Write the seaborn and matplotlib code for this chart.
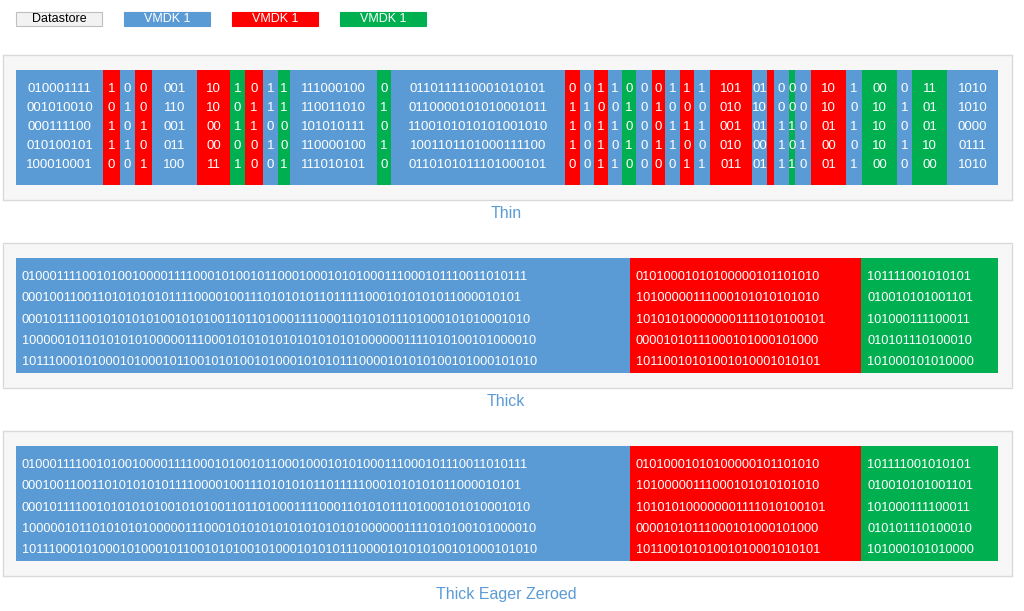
import matplotlib
matplotlib.use("Agg")
import matplotlib.pyplot as plt
import seaborn as sns

sns.set_theme(style="white")
plt.rcParams["font.family"] = "Liberation Sans"

BLUE, RED, GREEN = "#5b9bd5", "#ff0000", "#00b050"
COLORS = {"b": BLUE, "r": RED, "g": GREEN}

# legend
legend_labels = ["Datastore", "VMDK 1", "VMDK 1", "VMDK 1"]
legend_colors = ["#f2f2f2", BLUE, RED, GREEN]

# thin disk: segment edges (pixels along the datastore), colours, and text columns
thin_edges = [16, 103, 120, 135, 152, 197, 230, 245, 263, 278, 290, 377, 391, 565, 580,
              594, 608, 622, 636, 652, 665, 680, 694, 710, 752, 767, 774, 789, 795, 811,
              846, 862, 897, 912, 947, 998]
thin_colors = "brbrbrgrbgbgbrbrbgbrbrbrbrbgbrbgbgb"
thin_text = [
    ["010001111", "001010010", "000111100", "010100101", "100010001"],
    ["1", "0", "1", "1", "0"], ["0", "1", "0", "1", "0"], ["0", "0", "1", "0", "1"],
    ["001", "110", "001", "011", "100"], ["10", "10", "00", "00", "11"],
    ["1", "0", "1", "0", "1"], ["0", "1", "1", "0", "0"], ["1", "1", "0", "1", "0"],
    ["1", "1", "0", "0", "1"],
    ["111000100", "110011010", "101010111", "110000100", "111010101"],
    ["0", "1", "0", "1", "0"],
    ["0110111110001010101", "0110000101010001011", "1100101010101001010",
     "1001101101000111100", "0110101011101000101"],
    ["0", "1", "1", "1", "0"], ["0", "1", "0", "0", "0"], ["1", "0", "1", "1", "1"],
    ["1", "0", "1", "0", "1"], ["0", "1", "0", "1", "0"], ["0", "0", "0", "0", "0"],
    ["0", "1", "0", "1", "0"], ["1", "0", "1", "1", "0"], ["1", "0", "1", "0", "1"],
    ["1", "0", "1", "0", "1"], ["101", "010", "001", "010", "011"],
    ["01", "10", "01", "00", "01"], ["", "", "", "", ""],
    ["0", "0", "1", "1", "1"], ["0", "0", "1", "0", "1"], ["0", "0", "0", "1", "0"],
    ["10", "10", "01", "00", "01"], ["1", "0", "1", "0", "1"],
    ["00", "10", "10", "10", "00"], ["0", "1", "0", "1", "0"],
    ["11", "01", "01", "10", "00"], ["1010", "1010", "0000", "0111", "1010"],
]

# thick disks: three blocks
thick_edges = [16, 630, 861, 998]
thick_colors = "brg"
thick_text = [
    ["0100011110010100100001111000101001011000100010101000111000101110011010111",
     "00010011001101010101011110000100111010101011011111000101010101100001010 1".replace(" ", ""),
     "0001011110010101010100101010011011010001111000110101011101000101010001010",
     "1000001011010101010000011100010101010101010101010000001111010100101000010",
     "1011100010100010100010110010101001010001010101110000101010100101000101010"],
    ["0101000101010000010110 1010".replace(" ", ""), "10100000111000101010101010",
     "10101010000000111101010010 1".replace(" ", ""), "00001010111000101000101000",
     "10110010101001010001010101"],
    ["101111001010101", "010010101001101", "101000111100011",
     "010101110100010", "101000101010000"],
]

panels = [("Thin", 55, 214), ("Thick", 243, 402), ("Thick Eager Zeroed", 431, 594)]

fig = plt.figure(figsize=(10.24, 6.11), dpi=100)
ax = fig.add_axes([0, 0, 1, 1])
ax.set_xlim(0, 1024)
ax.set_ylim(611, 0)
ax.axis("off")

# legend boxes
for i, (lab, col) in enumerate(zip(legend_labels, legend_colors)):
    x0 = 16 + i * 108
    ax.add_patch(plt.Rectangle((x0, 12), 86, 14, facecolor=col,
                               edgecolor="#bfbfbf" if i == 0 else col, lw=0.8))
    ax.text(x0 + 43, 19, lab, ha="center", va="center", fontsize=9,
            color="black" if i == 0 else "white")


def draw_row(edges, colors, texts, top, line_h, fs, align):
    lefts = edges[:-1]
    widths = [b - a for a, b in zip(edges[:-1], edges[1:])]
    ax.barh([top + 57.5] * len(widths), widths, left=lefts, height=115,
            color=[COLORS[c] for c in colors], edgecolor="none")
    for left, w, col in zip(lefts, widths, texts):
        for j, s in enumerate(col):
            y = top + 19 + j * line_h
            if align == "left":
                ax.text(left + 6, y, s, ha="left", va="center", fontsize=fs, color="white")
            else:
                ax.text(left + w / 2, y, s, ha="center", va="center", fontsize=fs, color="white")


for k, (name, ptop, ly) in enumerate(panels):
    ax.add_patch(plt.Rectangle((3, ptop), 1009, 145, facecolor="#f7f7f7",
                               edgecolor="#d9d9d9", lw=1))
    if k == 0:
        draw_row(thin_edges, thin_colors, thin_text, ptop + 15, 19, 9.5, "center")
    else:
        draw_row(thick_edges, thick_colors, thick_text, ptop + 15, 21.3, 9.2, "left")
    ax.text(506, ly, name, ha="center", va="center", fontsize=11.5, color="#5b9bd5")

fig.savefig("out.png", dpi=100, facecolor="white")
